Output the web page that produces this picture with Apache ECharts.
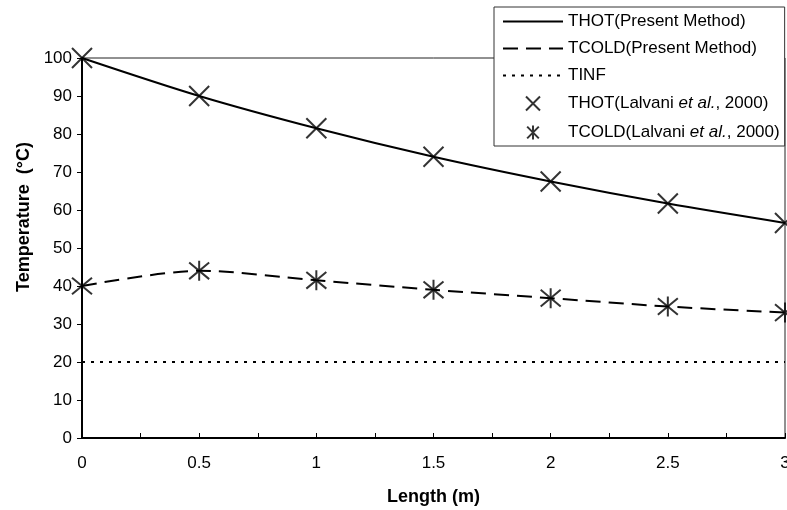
<!DOCTYPE html>
<html><head><meta charset="utf-8">
<script src="https://cdn.jsdelivr.net/npm/echarts@6/dist/echarts.min.js"></script>
<style>html,body{margin:0;padding:0;background:#fff}#c{width:787px;height:510px}</style>
</head><body><div id="c"></div>
<script>
const lengths = [0, 0.5, 1, 1.5, 2, 2.5, 3];
const thotModel = [100, 90, 81.5, 74, 67.5, 61.7, 56.6];
const tcoldModel = [40, 44, 41.5, 39, 36.8, 34.6, 33];
const tinf = [20, 20, 20, 20, 20, 20, 20];
const thotLalvani = [100, 90, 81.5, 74, 67.5, 61.7, 56.6];
const tcoldLalvani = [40, 44, 41.5, 39, 36.8, 34.6, 33];
const xTicks = [0, 0.5, 1, 1.5, 2, 2.5, 3];
const yTicks = [0, 10, 20, 30, 40, 50, 60, 70, 80, 90, 100];
const names = ['THOT(Present Method)', 'TCOLD(Present Method)', 'TINF',
  'THOT(Lalvani et al., 2000)', 'TCOLD(Lalvani et al., 2000)'];

const pair = (xs, ys) => xs.map((x, i) => [x, ys[i]]);
const FONT = '"Liberation Sans", Arial, sans-serif';
const crossPath = 'path://M0,0L10,10M10,0L0,10';
const starPath = 'path://M0,0L10,10M10,0L0,10M5,-1L5,11';

const chart = echarts.init(document.getElementById('c'));
chart.setOption({
  animation: false,
  backgroundColor: '#fff',
  textStyle: { fontFamily: FONT, color: '#000' },
  grid: { left: 82, right: 2, top: 58, bottom: 72, show: true, borderColor: '#222', borderWidth: 1,
    containLabel: false, outerBoundsMode: 'none' },
  xAxis: {
    type: 'value', min: xTicks[0], max: xTicks[xTicks.length - 1], interval: 0.5,
    name: 'Length (m)', nameLocation: 'middle', nameGap: 50,
    nameTextStyle: { fontFamily: FONT, fontSize: 18, fontWeight: 'bold', color: '#000' },
    axisLine: { lineStyle: { color: '#000', width: 2 } },
    axisTick: { inside: true, length: 5, lineStyle: { color: '#000', width: 1 } },
    minorTick: { show: true, splitNumber: 2, length: 5, lineStyle: { color: '#000', width: 1 } },
    splitLine: { show: false },
    axisLabel: { fontFamily: FONT, fontSize: 17, color: '#000', margin: 17 }
  },
  yAxis: {
    type: 'value', min: yTicks[0], max: yTicks[yTicks.length - 1], interval: 10,
    axisLine: { show: true, lineStyle: { color: '#000', width: 2 } },
    axisTick: { show: true, inside: false, length: 5, lineStyle: { color: '#000', width: 1 } },
    splitLine: { show: false },
    axisLabel: { fontFamily: FONT, fontSize: 17, color: '#000', margin: 10 }
  },
  legend: {
    orient: 'vertical', left: 494, top: 7,
    padding: [6, 5, 4, 8], itemGap: 10, itemWidth: 60, itemHeight: 14,
    backgroundColor: '#fff', borderColor: '#333', borderWidth: 1,
    data: names,
    textStyle: {
      fontFamily: FONT, fontSize: 17, color: '#000',
      rich: { n: { fontFamily: FONT, fontSize: 17, color: '#000' },
              i: { fontFamily: FONT, fontSize: 17, color: '#000', fontStyle: 'italic' } }
    },
    formatter: function (name) {
      if (name.indexOf('et al.') >= 0) {
        const p = name.split('et al.');
        return '{n|' + p[0] + '}{i|et al.}{n|' + p[1] + '}';
      }
      return name;
    }
  },
  graphic: [{
    type: 'text', x: 24, y: 217, rotation: Math.PI / 2,
    style: { text: 'Temperature  (°C)', fontFamily: FONT, fontSize: 18, fontWeight: 'bold',
      fill: '#000', align: 'center', verticalAlign: 'middle' }
  }],
  series: [
    { name: names[0], type: 'line', data: pair(lengths, thotModel), smooth: 0.3, symbol: 'none',
      lineStyle: { color: '#000', width: 2 }, itemStyle: { color: 'transparent', borderWidth: 0 }, z: 2 },
    { name: names[1], type: 'line', data: pair(lengths, tcoldModel), smooth: 0.3, symbol: 'none',
      lineStyle: { color: '#000', width: 2, type: [15, 8] }, itemStyle: { color: 'transparent', borderWidth: 0 }, z: 2 },
    { name: names[2], type: 'line', data: pair(lengths, tinf), symbol: 'none',
      lineStyle: { color: '#000', width: 2, type: [3, 6] }, itemStyle: { color: 'transparent', borderWidth: 0 }, z: 2 },
    { name: names[3], type: 'scatter', data: pair(lengths, thotLalvani), symbol: crossPath, symbolSize: 20,
      itemStyle: { color: 'none', borderColor: '#000', borderWidth: 2 }, z: 3 },
    { name: names[4], type: 'scatter', data: pair(lengths, tcoldLalvani), symbol: starPath, symbolSize: 20,
      itemStyle: { color: 'none', borderColor: '#000', borderWidth: 2 }, z: 3 }
  ]
});
</script></body></html>
